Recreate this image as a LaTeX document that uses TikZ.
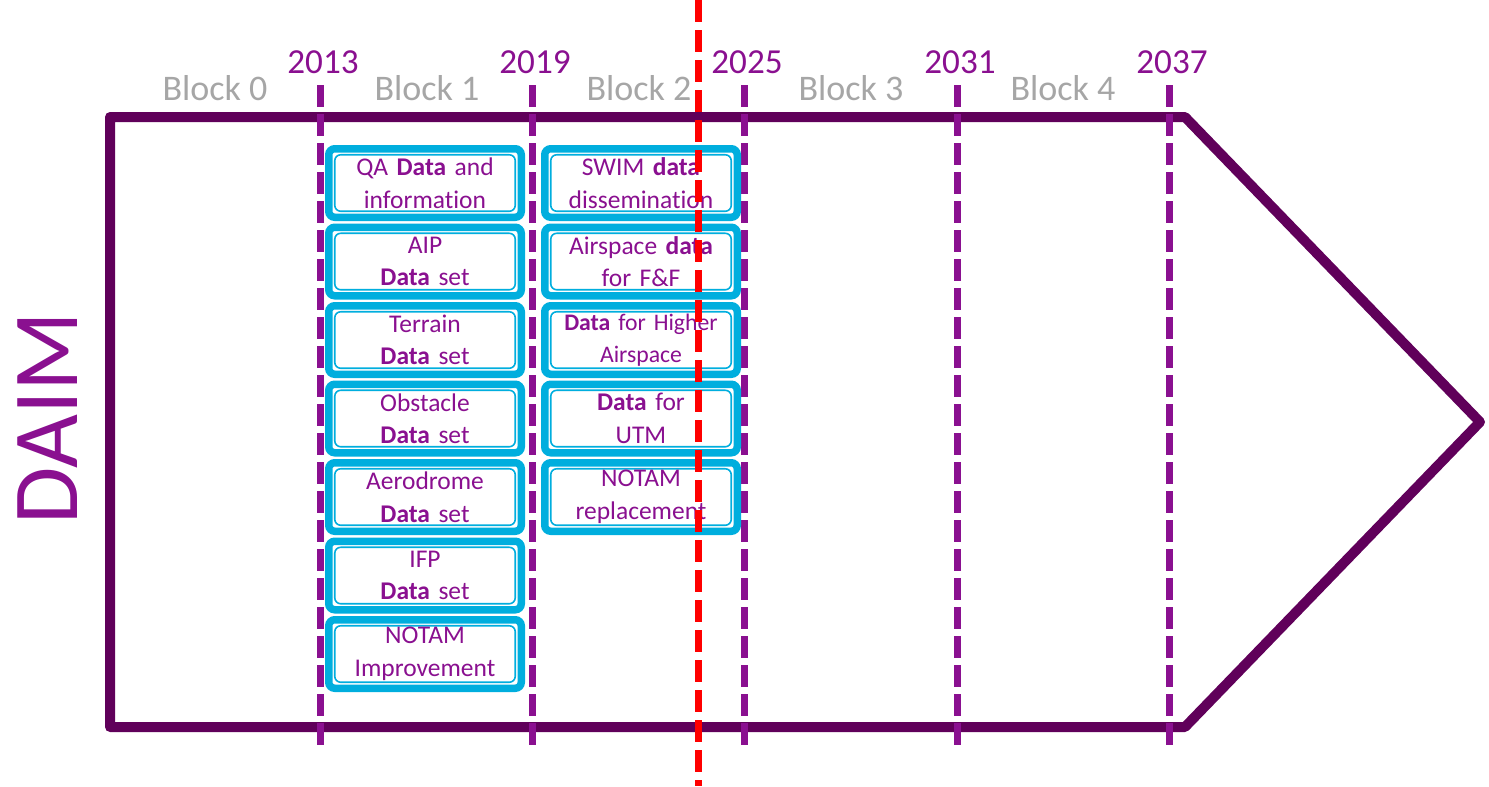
\documentclass[tikz,border=0pt]{standalone}
\usepackage{fontspec}
\setmainfont{Carlito}[Ligatures=NoCommon]
\usetikzlibrary{positioning}
\definecolor{daimdark}{RGB}{96,0,90}
\definecolor{daimpurple}{RGB}{138,16,144}
\definecolor{boxcyan}{RGB}{0,174,222}
\definecolor{blockgray}{RGB}{166,166,166}
\definecolor{nowred}{RGB}{255,0,0}
\tikzset{
  infobox/.style={rectangle, draw=boxcyan, fill=white, line width=0.15cm,
    rounded corners=0.12cm, minimum width=3.85cm, minimum height=1.37cm,
    inner sep=0pt, text width=3.7cm, align=center, text=daimpurple,
    font=\fontsize{14.5}{18.5}\selectfont,
    path picture={\draw[boxcyan, line width=0.9pt]
      ([shift={(0.12,0.12)}]path picture bounding box.south west) rectangle
      ([shift={(-0.12,-0.12)}]path picture bounding box.north east);}},
  yearline/.style={daimpurple, line width=0.14cm, dash pattern=on 0.44cm off 0.14cm},
  nowline/.style={nowred, line width=0.14cm, dash pattern=on 0.44cm off 0.16cm},
  yearlabel/.style={font=\fontsize{20}{24}\selectfont, text=daimpurple},
  blocklabel/.style={font=\fontsize{20.5}{24}\selectfont, text=blockgray},
  node distance=0.05cm
}
\begin{document}
\begin{tikzpicture}
  \useasboundingbox (0,0) rectangle (29.78,-15.72);

  % Outline arrow
  \draw[daimdark, line width=0.2cm, line join=round]
    (2.2,-2.34) -- (23.7,-2.34) -- (29.6,-8.44) -- (23.7,-14.54) -- (2.2,-14.54) -- cycle;

  % Title
  \node[rotate=90, text=daimpurple, font=\fontsize{53}{60}\selectfont] (title) at (0.96,-8.36) {DAIM};

  % Year boundaries
  \coordinate (y2013) at (6.4,-1.7);
  \coordinate (y2019) at (10.64,-1.7);
  \coordinate (y2025) at (14.88,-1.7);
  \coordinate (y2031) at (19.14,-1.7);
  \coordinate (y2037) at (23.38,-1.7);
  \draw[yearline] (y2013) -- ++(0,-13.3);
  \draw[yearline] (y2019) -- ++(0,-13.3);
  \draw[yearline] (y2025) -- ++(0,-13.3);
  \draw[yearline] (y2031) -- ++(0,-13.3);
  \draw[yearline] (y2037) -- ++(0,-13.3);
  \node[yearlabel] (l2013) at (6.46,-1.24) {2013};
  \node[yearlabel] (l2019) at (10.7,-1.24) {2019};
  \node[yearlabel] (l2025) at (14.94,-1.24) {2025};
  \node[yearlabel] (l2031) at (19.2,-1.24) {2031};
  \node[yearlabel] (l2037) at (23.44,-1.24) {2037};

  % Block names
  \node[blocklabel] (b0) at (4.3,-1.76) {Block 0};
  \node[blocklabel] (b1) at (8.54,-1.76) {Block 1};
  \node[blocklabel] (b2) at (12.78,-1.76) {Block 2};
  \node[blocklabel] (b3) at (17.02,-1.76) {Block 3};
  \node[blocklabel] (b4) at (21.26,-1.76) {Block 4};

  % Block 1 elements
  \node[infobox] (qa) at (8.5,-3.66) {QA \textbf{Data} and\\information};
  \node[infobox, below=of qa] (aip) {AIP\\\textbf{Data} set};
  \node[infobox, below=of aip] (terrain) {Terrain\\\textbf{Data} set};
  \node[infobox, below=of terrain] (obstacle) {Obstacle\\\textbf{Data} set};
  \node[infobox, below=of obstacle] (aerodrome) {Aerodrome\\\textbf{Data} set};
  \node[infobox, below=of aerodrome] (ifp) {IFP\\\textbf{Data} set};
  \node[infobox, below=of ifp] (notamimp) {NOTAM\\Improvement};

  % Block 2 elements
  \node[infobox] (swim) at (12.82,-3.66) {SWIM \textbf{data}\\dissemination};
  \node[infobox, below=of swim] (airspace) {Airspace \textbf{data}\\for F\&F};
  \node[infobox, below=of airspace, font=\fontsize{13.5}{18.5}\selectfont] (higher) {\textbf{Data} for Higher\\Airspace};
  \node[infobox, below=of higher] (utm) {\textbf{Data} for\\UTM};
  \node[infobox, below=of utm] (notamrep) {NOTAM\\replacement};

  % Current date
  \coordinate (nowtop) at (13.96,0);
  \coordinate (nowbot) at (13.96,-15.72);
  \draw[nowline] (nowtop) -- (nowbot);
\end{tikzpicture}
\end{document}
